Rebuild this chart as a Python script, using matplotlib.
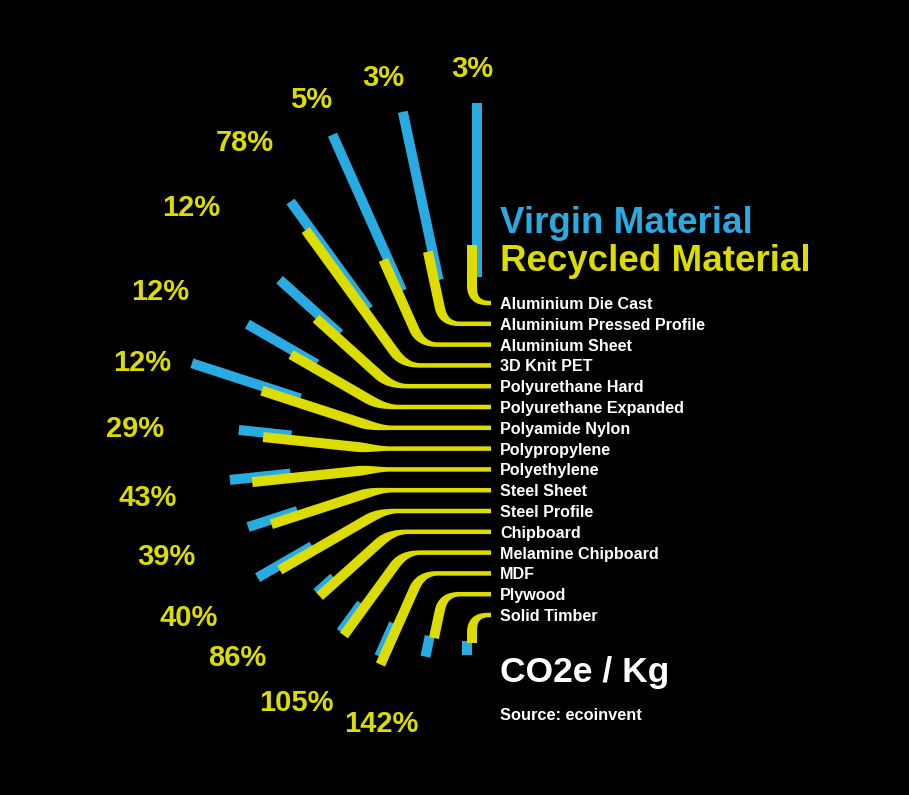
import numpy as np
import matplotlib.pyplot as plt

plt.rcParams['font.family'] = ['Liberation Sans', 'DejaVu Sans']

# data
materials = ['Aluminium Die Cast', 'Aluminium Pressed Profile', 'Aluminium Sheet', '3D Knit PET',
             'Polyurethane Hard', 'Polyurethane Expanded', 'Polyamide Nylon', 'Polypropylene',
             'Polyethylene', 'Steel Sheet', 'Steel Profile', 'Chipboard', 'Melamine Chipboard',
             'MDF', 'Plywood', 'Solid Timber']
# bar lengths beyond the inner ring (chart units)
virgin = [174, 172, 171, 133, 81, 80, 114, 53, 61, 52, 63, 23, 35, 36, 21, 14]
recycled = [32, 30, 36, 101, 28, 27, 39, 28, 39, 29, 40, 23, 36, 43, 1, 2]
pct = ['3%', '3%', '5%', '78%', '12%', '12%', '12%', '29%', '43%', '39%', '40%',
       '86%', '105%', '142%', '', '']

# layout / style
BLUE = '#29abe2'
YELLOW = '#dcdc00'
W, H = 909, 795
cx, cy = 472, 459          # centre of the fan
row0, row_step = 303, 20.8  # label rows
r0 = 182                   # inner ring where bars start
x_line = 491               # right end of the leader lines
bend = 17
w_thin, w_bar = 4.5, 10
blue_off = 4.5
label_r = [392, 393, 395, 391, 378, 355, 344, 338, 326, 320, 324, 307, 299, 278]
label_da = [0, 1, 0, -0.5, 0, 1.5, 1.5, 0.5, 0.5, -0.5, -1, -2, 0, 5]

fig = plt.figure(figsize=(W / 100, H / 100), dpi=100, facecolor='black')
ax = fig.add_axes([0, 0, 1, 1])
ax.set_xlim(0, W)
ax.set_ylim(H, 0)
ax.axis('off')
ax.set_facecolor('black')


def thick(pts, widths):
    # polygon around a centre line with a width per point
    pts = np.asarray(pts, float)
    d = np.gradient(pts, axis=0)
    d /= np.linalg.norm(d, axis=1)[:, None]
    nrm = np.column_stack([-d[:, 1], d[:, 0]])
    w = np.asarray(widths, float)[:, None] / 2
    return np.vstack([pts + nrm * w, (pts - nrm * w)[::-1]])


C = np.array([cx, cy], float)
for i, name in enumerate(materials):
    th = np.radians(90 + 12 * i)
    u = np.array([np.cos(th), -np.sin(th)])
    perp = np.array([np.sin(th), np.cos(th)])
    y = row0 + row_step * i

    # virgin bar
    b0 = C + r0 * u + blue_off * perp
    b1 = C + (r0 + virgin[i]) * u + blue_off * perp
    poly = thick([b0, b1], [w_bar, w_bar])
    ax.fill(poly[:, 0], poly[:, 1], color=BLUE, lw=0, zorder=2)

    # recycled line: horizontal leader -> bend -> ray
    t = (cy - y) / np.sin(th)
    P = C + t * u
    A = P + np.array([bend, 0])
    B = P + bend * u
    n1 = 20
    hor = np.column_stack([np.linspace(x_line, A[0], n1, endpoint=False), np.full(n1, y)])
    s = np.linspace(0, 1, 30, endpoint=False)
    curve = ((1 - s) ** 2)[:, None] * A + (2 * (1 - s) * s)[:, None] * P + (s ** 2)[:, None] * B
    end = C + (r0 + recycled[i]) * u
    ray = np.linspace(B, end, 20)
    pts = np.vstack([hor, curve, ray])
    ramp = s * s * (3 - 2 * s)
    widths = np.concatenate([np.full(n1, w_thin), w_thin + (w_bar - w_thin) * ramp,
                             np.full(20, w_bar)])
    poly = thick(pts, widths)
    ax.fill(poly[:, 0], poly[:, 1], color=YELLOW, lw=0, zorder=3)

    ax.text(500, y + 6, name, color='white', fontsize=11.6, fontweight='bold',
            va='baseline', ha='left')

    if pct[i]:
        a = np.radians(90 + 12 * i + label_da[i])
        px, py = C + label_r[i] * np.array([np.cos(a), -np.sin(a)])
        ax.text(px, py + 10, pct[i], color=YELLOW, fontsize=21, fontweight='bold',
                ha='center', va='baseline')

ax.text(500, 233, 'Virgin Material', color=BLUE, fontsize=26.5, fontweight='bold', va='baseline')
ax.text(500, 271, 'Recycled Material', color=YELLOW, fontsize=26.5, fontweight='bold', va='baseline')
ax.text(500, 682, 'CO2e / Kg', color='white', fontsize=25.5, fontweight='bold', va='baseline')
ax.text(500, 720, 'Source: ecoinvent', color='white', fontsize=11.8, fontweight='bold', va='baseline')

fig.savefig('out.png', dpi=100, facecolor='black')
